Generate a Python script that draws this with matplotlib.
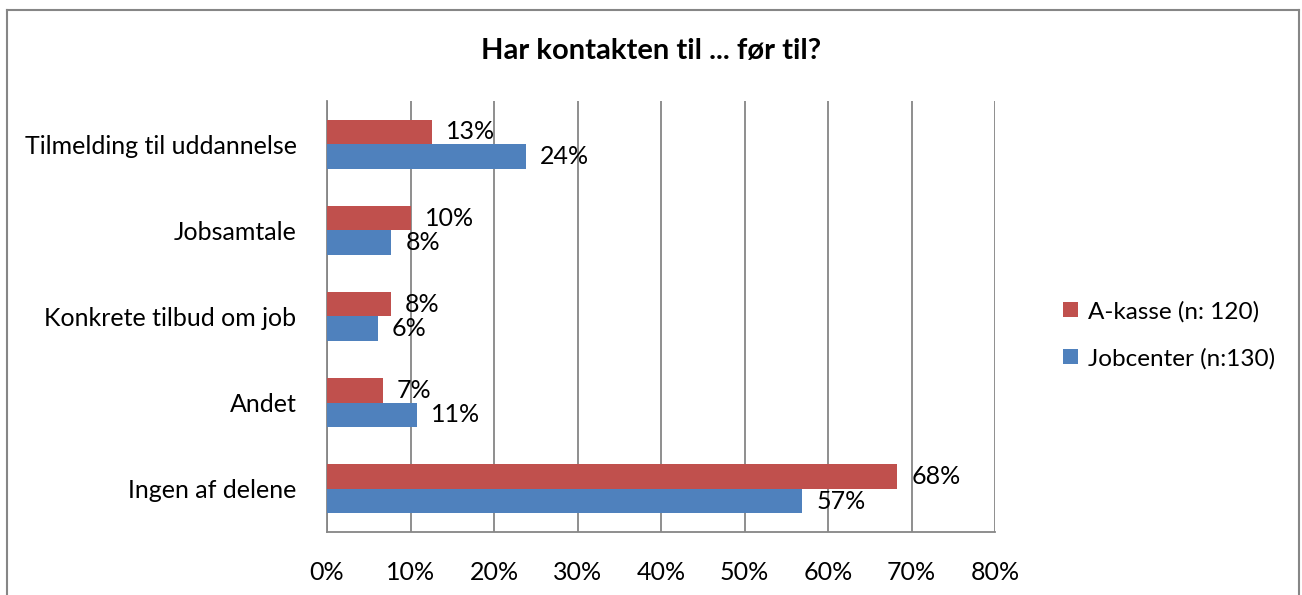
import matplotlib.pyplot as plt
from matplotlib.lines import Line2D
import numpy as np

plt.rcParams["font.family"] = ["Lato", "DejaVu Sans"]

kategorier = ["Tilmelding til uddannelse", "Jobsamtale", "Konkrete tilbud om job",
              "Andet", "Ingen af delene"]
akasse = [12.6, 10.1, 7.6, 6.7, 68.3]
jobcenter = [23.8, 7.7, 6.1, 10.8, 56.9]
serier = ["A-kasse (n: 120)", "Jobcenter (n:130)"]
xticks = [0, 10, 20, 30, 40, 50, 60, 70, 80]

ROD = "#C0504D"
BLA = "#4F81BD"
GRID = "#868686"

fig = plt.figure(figsize=(13.02, 5.95), dpi=100)
ax = fig.add_axes([0.2512, 0.1059, 0.5131, 0.7244])

y = np.arange(len(kategorier))
h = 0.284
b1 = ax.barh(y - h / 2, akasse, height=h, color=ROD, label=serier[0], zorder=3)
b2 = ax.barh(y + h / 2, jobcenter, height=h, color=BLA, label=serier[1], zorder=3)

for bars, vals in ((b1, akasse), (b2, jobcenter)):
    for bar, v in zip(bars, vals):
        ax.annotate(f"{v:.0f}%", (bar.get_width(), bar.get_y() + bar.get_height() / 2),
                    xytext=(10, 0), textcoords="offset points", va="center",
                    ha="left", fontsize=18, color="black", zorder=4)

ax.set_xlim(0, 80)
ax.set_ylim(len(kategorier) - 0.5, -0.5)
ax.set_xticks(xticks)
ax.set_xticklabels([f"{t}%" for t in xticks], fontsize=18)
ax.set_yticks(y)
ax.set_yticklabels(kategorier, fontsize=18)
ax.tick_params(axis="both", length=0)
ax.tick_params(axis="x", pad=21)
ax.tick_params(axis="y", pad=22)
ax.grid(axis="x", color=GRID, linewidth=1.3, zorder=0)
for s in ("top", "right"):
    ax.spines[s].set_visible(False)
for s in ("left", "bottom"):
    ax.spines[s].set_color(GRID)
    ax.spines[s].set_linewidth(1.3)

fig.text(0.5, 0.915, "Har kontakten til ... før til?", ha="center", va="center",
         fontsize=21, fontweight="bold")

fig.legend(handles=[b1, b2], labels=serier, loc="center left",
           bbox_to_anchor=(0.8, 0.437), frameon=False, fontsize=17.5,
           handlelength=0.6, handleheight=0.6, handletextpad=0.4,
           labelspacing=1.05)

# ramme omkring diagrammet
for xs, ys in (([0.0055, 0.0055], [0, 0.984]), ([0.0055, 0.998], [0.984, 0.984]),
               ([0.998, 0.998], [0, 0.984])):
    fig.add_artist(Line2D(xs, ys, color=GRID, linewidth=1.5, transform=fig.transFigure))

fig.savefig("out.png", dpi=100)
